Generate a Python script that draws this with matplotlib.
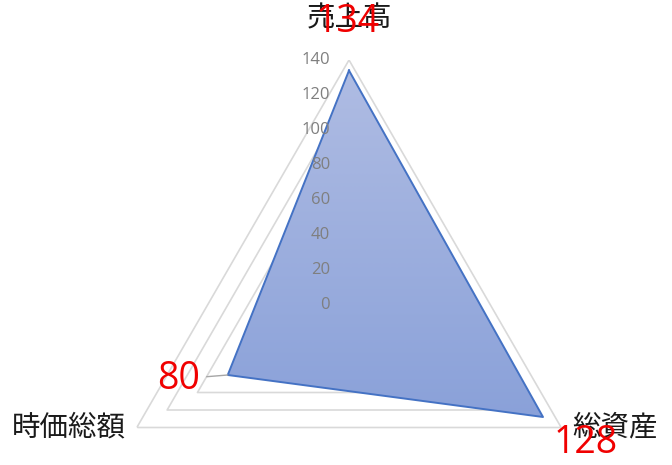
import numpy as np
import matplotlib
matplotlib.use("Agg")
import matplotlib.pyplot as plt
from matplotlib.colors import LinearSegmentedColormap
from matplotlib.image import AxesImage

categories = ["売上高", "総資産", "時価総額"]
values = [134, 128, 80]
ticks = [0, 20, 40, 60, 80, 100, 120, 140]

plt.rcParams['font.family'] = ['Noto Sans CJK JP', 'DejaVu Sans']

fig = plt.figure(figsize=(6.72, 4.65), dpi=100)
# polar axes centred at pixel (349, 305), radius 245 px
ax = fig.add_axes([104 / 672, -85 / 465, 490 / 672, 490 / 465], projection='polar')
ax.set_theta_offset(np.pi / 2)
ax.set_theta_direction(-1)

angles = np.linspace(0, 2 * np.pi, len(categories), endpoint=False)
closed = np.append(angles, angles[0])

# triangle gridlines
for t in ticks:
    ax.plot(closed, [t] * len(closed), color='#d9d9d9', lw=1.2, zorder=1)

vals = np.append(values, values[0])
poly = ax.fill(closed, vals, facecolor='none', edgecolor='none', zorder=2)[0]

# vertical gradient fill clipped to the polygon (light at top, darker at bottom)
cmap = LinearSegmentedColormap.from_list('g', ['#8aa1d9', '#afbce3'])
im = AxesImage(ax, cmap=cmap, extent=(0, 1, 0.27, 0.98), transform=ax.transAxes,
               interpolation='bilinear', origin='lower', zorder=2)
im.set_data(np.linspace(0, 1, 256).reshape(-1, 1))
ax.add_image(im)
im.set_clip_path(poly)

ax.plot(closed, vals, color='#4472c4', lw=1.4, zorder=3)

ax.set_ylim(0, 140)
ax.set_xticks([])
ax.set_yticks([])
ax.grid(False)
ax.spines['polar'].set_visible(False)
ax.patch.set_alpha(0)

# value axis labels
for t in ticks:
    ax.annotate(str(t), xy=(0, t), xytext=(-19, 0), textcoords='offset pixels',
                ha='right', va='center', fontsize=12, color='#7f7f7f',
                family=['Open Sans', 'DejaVu Sans'], zorder=5)

# category labels
cat_offsets = [((0, 42), 'center', 'center'),
               ((11, 0), 'left', 'center'),
               ((-11, 0), 'right', 'center')]
for a, c, (off, ha, va) in zip(angles, categories, cat_offsets):
    ax.annotate(c, xy=(a, 140), xytext=off, textcoords='offset pixels',
                ha=ha, va=va, fontsize=20.5, color='#1a1a1a', annotation_clip=False)

# data labels
val_offsets = [((-1, 49), 'center'), ((43, -26), 'center'), ((-28, -4), 'right')]
for i, (a, v, (off, ha)) in enumerate(zip(angles, values, val_offsets)):
    props = None
    if i == 2:
        props = dict(arrowstyle='-', color='#a6a6a6', lw=1.0, shrinkA=3, shrinkB=0)
    ax.annotate(str(v), xy=(a, v), xytext=off, textcoords='offset pixels',
                ha=ha, va='center', fontsize=27, color='#f00000',
                family=['Open Sans', 'DejaVu Sans'], arrowprops=props,
                annotation_clip=False, zorder=6)

fig.savefig('out.png', dpi=100)
